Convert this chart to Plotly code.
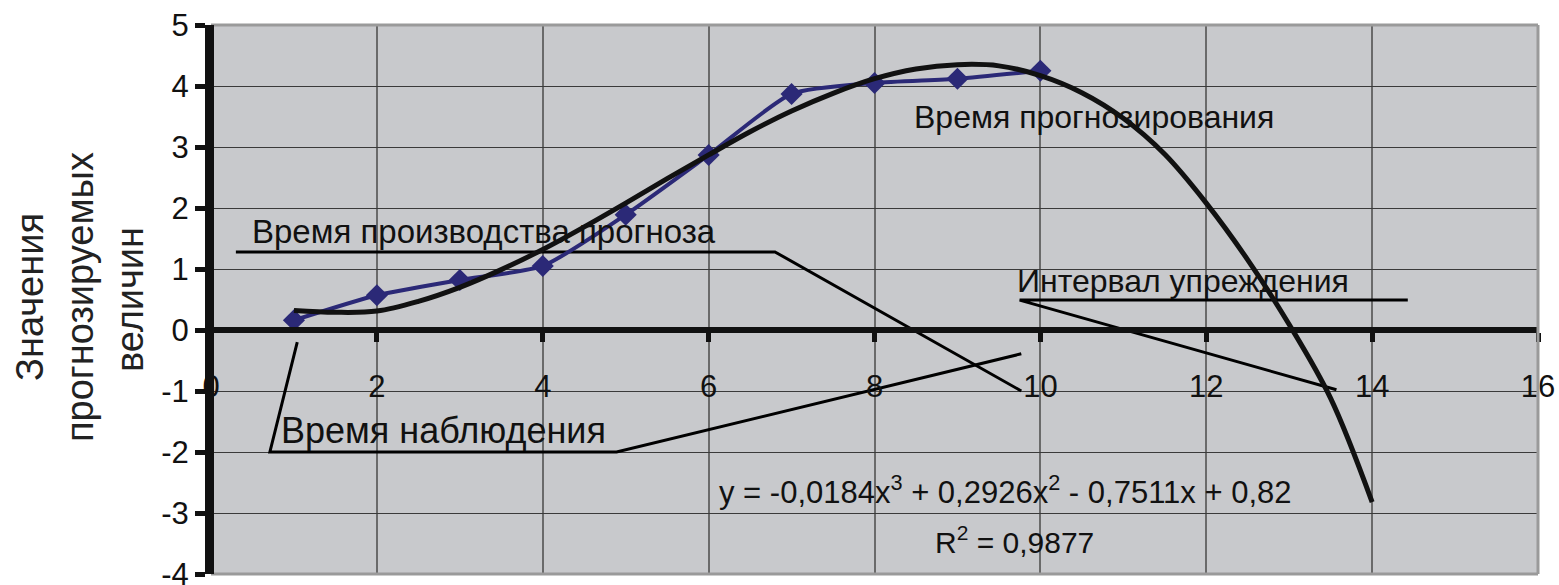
import plotly.graph_objects as go

# observed series
obs_x = [1, 2, 3, 4, 5, 6, 7, 8, 9, 10]
obs_y = [0.16, 0.57, 0.82, 1.05, 1.89, 2.87, 3.87, 4.05, 4.12, 4.25]

# polynomial trend line
trend_x = [1, 1.5, 2, 2.5, 3, 3.5, 4, 4.5, 5, 5.5, 6, 6.5, 7, 7.5, 8, 8.5, 9, 9.5,
           10, 10.5, 11, 11.5, 12, 12.5, 13, 13.5, 14]
trend_y = [0.32, 0.29, 0.31, 0.47, 0.70, 0.99, 1.32, 1.69, 2.08, 2.48, 2.87, 3.25,
           3.59, 3.88, 4.12, 4.28, 4.35, 4.33, 4.17, 3.89, 3.47, 2.88, 2.08, 1.15,
           0.09, -1.12, -2.82]

x_ticks = [0, 2, 4, 6, 8, 10, 12, 14, 16]
y_ticks = [-4, -3, -2, -1, 0, 1, 2, 3, 4, 5]

# callout lines (data coordinates)
call_prod_x = [0.30, 6.80, 9.77]
call_prod_y = [1.28, 1.28, -1.00]
call_obs_x = [1.04, 0.71, 4.89, 9.77]
call_obs_y = [-0.20, -2.00, -2.00, -0.39]
call_int_x = [14.43, 9.75, 13.57]
call_int_y = [0.49, 0.49, -0.98]

labels = [
    ("Время производства прогноза", 0.47, 1.62, 33),
    ("Время наблюдения", 0.82, -1.64, 36),
    ("Время прогнозирования", 8.45, 3.49, 32),
    ("Интервал упреждения", 9.70, 0.80, 32),
]
equation = "y = -0,0184x<sup>3</sup> + 0,2926x<sup>2</sup> - 0,7511x + 0,82"
r2 = "R<sup>2</sup> = 0,9877"
y_title = ["Значения", "прогнозируемых", "величин"]

FONT = "Liberation Sans, Arial, sans-serif"

fig = go.Figure()

for cx, cy in [(call_prod_x, call_prod_y), (call_obs_x, call_obs_y), (call_int_x, call_int_y)]:
    fig.add_trace(go.Scatter(x=cx, y=cy, mode="lines",
                             line=dict(color="black", width=3), hoverinfo="skip"))

fig.add_trace(go.Scatter(x=obs_x, y=obs_y, mode="lines+markers",
                         line=dict(color="#2B2977", width=4, shape="spline", smoothing=0.6),
                         marker=dict(symbol="diamond", size=17, color="#2B2977")))

fig.add_trace(go.Scatter(x=trend_x, y=trend_y, mode="lines",
                         line=dict(color="#111111", width=5, shape="spline", smoothing=1.0)))

for txt, lx, ly, sz in labels:
    fig.add_annotation(x=lx, y=ly, text=txt, showarrow=False, xanchor="left",
                       yanchor="middle", font=dict(family=FONT, size=sz, color="#111"))

fig.add_annotation(x=6.10, y=-2.62, text=equation, showarrow=False, xanchor="left",
                   yanchor="middle", font=dict(family=FONT, size=31, color="#111"))
fig.add_annotation(x=8.70, y=-3.44, text=r2, showarrow=False, xanchor="left",
                   yanchor="middle", font=dict(family=FONT, size=30, color="#111"))

# y-axis title lines
L, R, T, B = 211, 21, 25, 11
W, H = 1559, 585
pw, ph = W - L - R, H - T - B
for txt, px, py in zip(y_title, [30, 80, 130], [297, 297, 300]):
    fig.add_annotation(xref="paper", yref="paper", x=(px - L) / pw, y=(H - B - py) / ph,
                       text=txt, textangle=-90, showarrow=False, xanchor="center",
                       yanchor="middle", font=dict(family=FONT, size=38, color="#222"))

# plot border (top, right, bottom) in gray
for x0, y0, x1, y1 in [(0, 1, 1, 1), (1, 0, 1, 1), (0, 0, 1, 0)]:
    fig.add_shape(type="line", xref="paper", yref="paper", x0=x0, y0=y0, x1=x1, y1=y1,
                  line=dict(color="#9A9A9A", width=3), layer="above")
# thick black value axis on the left
fig.add_shape(type="line", xref="paper", yref="paper", x0=0, y0=0, x1=0, y1=1,
              line=dict(color="#111111", width=6), layer="above")

fig.update_layout(
    width=W, height=H,
    margin=dict(l=L, r=R, t=T, b=B, autoexpand=False),
    paper_bgcolor="white",
    plot_bgcolor="#C8C9CC",
    showlegend=False,
    font=dict(family=FONT, color="#111"),
    xaxis=dict(range=[0, 16], tickvals=x_ticks, ticktext=[str(v) for v in x_ticks],
               showgrid=True, gridcolor="#6A6A6A", gridwidth=1.5,
               zeroline=False, showline=True, linecolor="#111", linewidth=6,
               anchor="free", position=4 / 9, automargin=False,
               ticks="outside", ticklen=9, tickwidth=5, tickcolor="#111",
               ticklabelstandoff=18, ticklabeloverflow="allow",
               tickfont=dict(family=FONT, size=31, color="#111")),
    yaxis=dict(range=[-4, 5], tickvals=y_ticks, ticktext=[str(v) for v in y_ticks],
               showgrid=True, gridcolor="#3A3A3A", gridwidth=1, automargin=False,
               zeroline=False, showline=True, linecolor="#111", linewidth=6,
               ticks="outside", ticklen=10, tickwidth=5, tickcolor="#111",
               ticklabeloverflow="allow",
               tickfont=dict(family=FONT, size=31, color="#111")),
)

fig.write_html("out.html", config={"displayModeBar": False},
               post_script="document.body.style.margin='0';document.body.style.overflow='hidden';")
